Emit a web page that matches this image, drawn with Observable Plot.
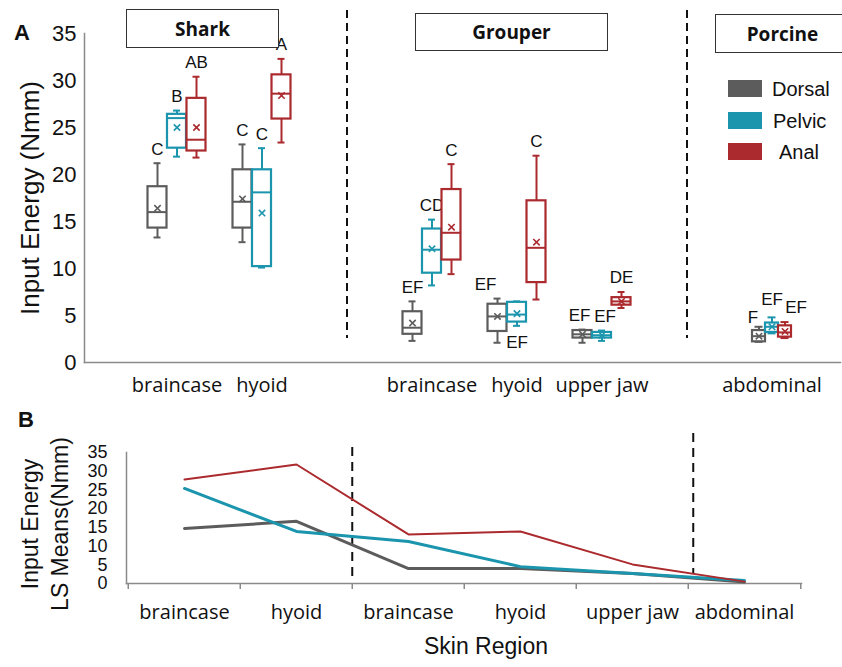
<!DOCTYPE html>
<html><head><meta charset="utf-8">
<script src="https://cdn.jsdelivr.net/npm/d3@7"></script>
<script src="https://cdn.jsdelivr.net/npm/@observablehq/plot@0.6"></script>
<style>
body{margin:0;background:#fff;}
#wrap{position:relative;width:842px;height:667px;font-family:"Liberation Sans",Arial,sans-serif;color:#111;overflow:hidden;}
#wrap svg{display:block;position:absolute;left:0;}
.hdr{position:absolute;border:1.5px solid #333;background:#fff;font-family:"Open Sans",sans-serif;font-weight:bold;font-size:19px;display:flex;align-items:center;justify-content:center;box-sizing:border-box;}
.panel{position:absolute;font-weight:bold;font-size:22px;}
.sw{position:absolute;width:34px;height:17px;}
.lt{position:absolute;font-size:20px;line-height:22px;}
</style></head><body><div id="wrap"></div>
<script>
// ---------- data ----------
const regions = ["braincase", "hyoid", "braincase", "hyoid", "upper jaw", "abdominal"];
const species = ["Shark", "Shark", "Grouper", "Grouper", "Grouper", "Porcine"];
const seriesNames = ["Dorsal", "Pelvic", "Anal"];
const colors = ["#5c5c5c", "#1b95ad", "#ab2a2e"];

// box statistics per region: [min, q1, median, q3, max, mean]
const dorsalBoxes = [
  [13.3, 14.3, 16.0, 18.7, 21.2, 16.4],
  [12.8, 14.3, 17.1, 20.5, 23.2, 17.4],
  [2.3, 3.0, 3.7, 5.4, 6.5, 4.2],
  [2.1, 3.3, 4.9, 6.2, 6.8, 4.9],
  [2.1, 2.6, 3.0, 3.4, 3.5, 3.0],
  [2.2, 2.2, 2.8, 3.4, 3.8, 2.8]
];
const pelvicBoxes = [
  [21.9, 22.8, 26.0, 26.4, 26.8, 25.0],
  [10.1, 10.2, 18.1, 20.5, 22.8, 15.9],
  [8.2, 9.5, 12.0, 14.2, 15.2, 12.1],
  [3.9, 4.3, 5.1, 6.4, 6.5, 5.2],
  [2.3, 2.6, 2.9, 3.2, 3.4, 2.9],
  [3.1, 3.2, 3.8, 4.2, 4.8, 3.8]
];
const analBoxes = [
  [21.8, 22.5, 23.7, 28.1, 30.4, 25.0],
  [23.4, 25.9, 28.6, 30.6, 32.3, 28.4],
  [9.4, 10.9, 13.8, 18.4, 21.1, 14.4],
  [6.7, 8.5, 12.2, 17.2, 22.0, 12.8],
  [5.8, 6.1, 6.5, 6.9, 7.5, 6.5],
  [2.6, 2.7, 3.2, 3.9, 4.3, 3.3]
];
const dorsalLetters = ["C", "C", "EF", "EF", "EF", "F"];
const pelvicLetters = ["B", "C", "CD", "EF", "EF", "EF"];
const analLetters = ["AB", "A", "C", "C", "DE", "EF"];

// panel B: LS means
const dorsalMeans = [14.7, 16.6, 4.0, 4.0, 2.7, 0.4];
const pelvicMeans = [25.4, 13.9, 11.2, 4.5, 2.7, 0.8];
const analMeans = [27.8, 31.8, 13.1, 13.9, 5.1, 0.5];

const yTicks = [0, 5, 10, 15, 20, 25, 30, 35];

// ---------- build ----------
const wrap = document.getElementById("wrap");
const keys = regions.map((r, i) => species[i] + " " + r);
const labelOf = new Map(keys.map((k, i) => [k, regions[i]]));
const slots = [];
keys.forEach((k, i) => {
  if (i > 0 && species[i] !== species[i - 1]) slots.push("gap " + i);
  slots.push(k);
});
const gaps = slots.filter(s => s.startsWith("gap"));

const boxSets = [dorsalBoxes, pelvicBoxes, analBoxes];
const letterSets = [dorsalLetters, pelvicLetters, analLetters];
const rowsA = [];
seriesNames.forEach((s, si) => {
  boxSets[si].forEach((b, i) => {
    rowsA.push({key: keys[i], species: species[i], series: s, si,
      min: b[0], q1: b[1], med: b[2], q3: b[3], max: b[4], mean: b[5], letter: letterSets[si][i]});
  });
});

// letter placement tweaks (label offsets in px: [dx, dy])
const below = new Set(["Grouper hyoid|Pelvic"]);
const nudge = new Map([
  ["Grouper hyoid|Dorsal", [-12, -14]],
  ["Grouper upper jaw|Dorsal", [-3, -14]],
  ["Grouper upper jaw|Pelvic", [3, -14]],
  ["Porcine abdominal|Dorsal", [-6, -9]],
  ["Porcine abdominal|Pelvic", [0, -18]],
  ["Porcine abdominal|Anal", [11, -15]]
]);
const idOf = d => d.key + "|" + d.series;

function boxMarks(rows, color, dx, inset, capInset) {
  return [
    Plot.ruleX(rows, {x: "key", y1: "min", y2: "max", stroke: color, strokeWidth: 2, dx}),
    Plot.tickY(rows, {x: "key", y: "min", stroke: color, strokeWidth: 2, dx, insetLeft: capInset, insetRight: capInset}),
    Plot.tickY(rows, {x: "key", y: "max", stroke: color, strokeWidth: 2, dx, insetLeft: capInset, insetRight: capInset}),
    Plot.barY(rows, {x: "key", y1: "q1", y2: "q3", fill: "white", stroke: color, strokeWidth: 2.2, dx, insetLeft: inset, insetRight: inset}),
    Plot.tickY(rows, {x: "key", y: "med", stroke: color, strokeWidth: 2, dx, insetLeft: inset, insetRight: inset}),
    Plot.dot(rows, {x: "key", y: "mean", symbol: "times", r: 3, stroke: color, strokeWidth: 1.6, dx})
  ];
}

const marksA = [];
seriesNames.forEach((s, si) => {
  const off = si - 1;
  const big = rowsA.filter(d => d.si === si && d.species !== "Porcine");
  const small = rowsA.filter(d => d.si === si && d.species === "Porcine");
  marksA.push(...boxMarks(big, colors[si], off * 19.5, 0, 6));
  marksA.push(...boxMarks(small, colors[si], off * 13, 3, 5.5));
  for (const [rows, sp] of [[big, 19.5], [small, 13]]) {
    const plain = rows.filter(d => !below.has(idOf(d)) && !nudge.has(idOf(d)));
    marksA.push(Plot.text(plain, {x: "key", y: "max", text: "letter", dx: off * sp, dy: -14, fontSize: 17, fill: "#111"}));
    const dn = rows.filter(d => below.has(idOf(d)));
    marksA.push(Plot.text(dn, {x: "key", y: "min", text: "letter", dx: off * sp, dy: 17, fontSize: 17, fill: "#111"}));
    for (const d of rows.filter(d => nudge.has(idOf(d)))) {
      const [ndx, ndy] = nudge.get(idOf(d));
      marksA.push(Plot.text([d], {x: "key", y: "max", text: "letter", dx: off * sp + ndx, dy: ndy, fontSize: 17, fill: "#111"}));
    }
  }
});

const plotA = Plot.plot({
  width: 842, height: 400,
  marginLeft: 84, marginRight: 2, marginTop: 33, marginBottom: 38,
  style: {fontFamily: "Liberation Sans, Arial, sans-serif", color: "#111", background: "transparent"},
  x: {type: "band", domain: slots, paddingInner: 0.78, paddingOuter: 0.83, align: 0.586, axis: null},
  y: {domain: [0, 35], axis: null},
  marks: [
    Plot.frame({anchor: "left", stroke: "#8a8a8a", strokeWidth: 1.5}),
    Plot.frame({anchor: "bottom", stroke: "#8a8a8a", strokeWidth: 1.5}),
    Plot.axisY(yTicks, {tickSize: 0, tickPadding: 8, fontSize: 22, label: null, fill: "#111"}),
    Plot.axisX(keys, {tickSize: 0, tickPadding: 15, fontSize: 20, fontFamily: "Open Sans", label: null,
      tickFormat: k => labelOf.get(k) ?? "", fill: "#111"}),
    Plot.ruleX(gaps, {x: d => d, stroke: "#111", strokeWidth: 2, strokeDasharray: "8,5", insetTop: -23, insetBottom: 24}),
    Plot.text(["Input Energy (Nmm)"], {text: d => d, frameAnchor: "left", textAnchor: "middle", rotate: -90, dx: -54, fontSize: 26, fill: "#111"}),
    ...marksA
  ]
});
plotA.style.top = "0px";
wrap.appendChild(plotA);

// ---------- panel B ----------
const meanSets = [dorsalMeans, pelvicMeans, analMeans];
const rowsB = [];
seriesNames.forEach((s, si) => meanSets[si].forEach((v, i) => rowsB.push({key: keys[i], series: s, si, v})));
const mL = 126, mR = 41, wB = 842;
const bw = (wB - mL - mR) / keys.length;
const lineWidths = [3, 3, 2];

const plotB = Plot.plot({
  width: wB, height: 267,
  marginLeft: mL, marginRight: mR, marginTop: 52, marginBottom: 84,
  style: {fontFamily: "Liberation Sans, Arial, sans-serif", color: "#111", background: "transparent"},
  x: {type: "band", domain: keys, padding: 0, axis: null},
  y: {domain: [0, 35], axis: null},
  marks: [
    Plot.frame({anchor: "left", stroke: "#8a8a8a", strokeWidth: 1.5}),
    Plot.frame({anchor: "bottom", stroke: "#8a8a8a", strokeWidth: 1.5}),
    Plot.axisY(yTicks, {tickSize: 0, tickPadding: 19, fontSize: 18, label: null, fill: "#111"}),
    Plot.axisX(keys, {tickSize: 0, tickPadding: 21, fontSize: 20, fontFamily: "Open Sans", label: null,
      tickFormat: k => labelOf.get(k), fill: "#111"}),
    Plot.axisX(keys, {tickSize: 6, fill: "none", stroke: "#8a8a8a", strokeWidth: 1.5, dx: -bw / 2, label: null}),
    Plot.axisX(keys.slice(-1), {tickSize: 6, fill: "none", stroke: "#8a8a8a", strokeWidth: 1.5, dx: bw / 2, label: null}),
    Plot.ruleX([keys[2]], {x: d => d, dx: -bw / 2, stroke: "#111", strokeWidth: 2, strokeDasharray: "9,6", insetTop: -5, insetBottom: 3}),
    Plot.ruleX([keys[5]], {x: d => d, dx: -bw / 2 + 5, stroke: "#111", strokeWidth: 2, strokeDasharray: "9,6", insetTop: -19, insetBottom: 9}),
    ...seriesNames.map((s, si) => Plot.line(rowsB.filter(d => d.si === si), {x: "key", y: "v", stroke: colors[si], strokeWidth: lineWidths[si]})),
    Plot.text(["Input Energy\nLS Means(Nmm)"], {text: d => d, frameAnchor: "left", textAnchor: "middle", rotate: -90, dx: -83, dy: 6, fontSize: 23, lineHeight: 1.3, fill: "#111"}),
    Plot.text(["Skin Region"], {text: d => d, frameAnchor: "bottom", textAnchor: "middle", dx: 22, dy: 70, fontSize: 23, fill: "#111"})
  ]
});
plotB.style.top = "400px";
wrap.appendChild(plotB);

// ---------- annotations ----------
function el(cls, text, css) {
  const d = document.createElement("div");
  d.className = cls; d.textContent = text; Object.assign(d.style, css); wrap.appendChild(d); return d;
}
el("panel", "A", {left: "14px", top: "20px"});
el("panel", "B", {left: "18px", top: "407px"});
el("hdr", "Shark", {left: "126px", top: "9px", width: "153px", height: "39px"});
el("hdr", "Grouper", {left: "415px", top: "13px", width: "193px", height: "38px"});
el("hdr", "Porcine", {left: "715px", top: "14px", width: "135px", height: "39px"});
const legTop = [80, 112, 143], legText = [772, 773, 779];
seriesNames.forEach((s, si) => {
  el("sw", "", {left: "728px", top: legTop[si] + "px", background: colors[si]});
  el("lt", s, {left: legText[si] + "px", top: (legTop[si] - 2) + "px"});
});
</script>
</body></html>
